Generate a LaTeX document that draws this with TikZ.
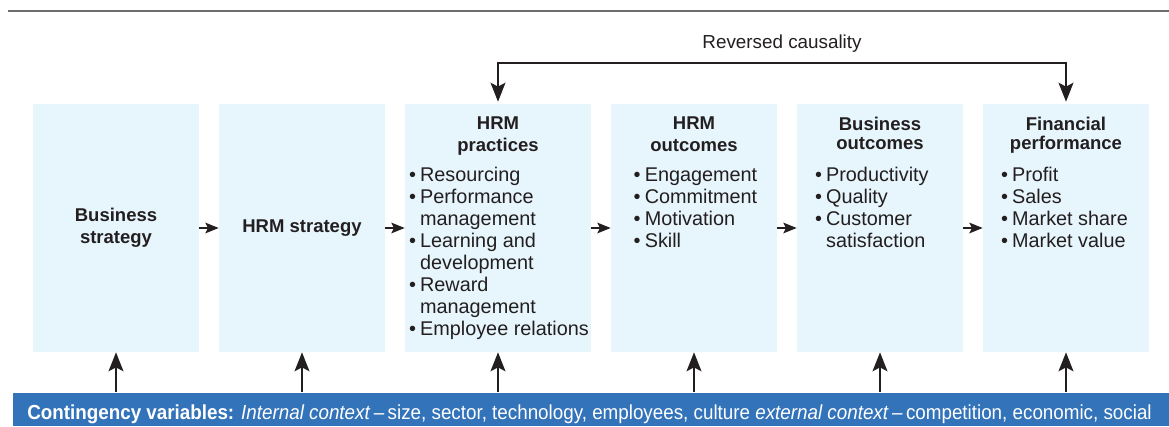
\documentclass[tikz,border=0pt]{standalone}
\usepackage{fontspec}
\setmainfont{Liberation Sans}
\newfontfamily\barfont[FakeStretch=0.925]{Liberation Sans}
\usetikzlibrary{arrows.meta,positioning}

\definecolor{boxblue}{HTML}{E7F5FC}
\definecolor{barblue}{HTML}{3373BA}
\definecolor{ink}{HTML}{231F20}
\definecolor{rulegrey}{HTML}{6D6E70}

\tikzset{
  box/.style={fill=boxblue,inner sep=0pt,minimum height=148.8pt,minimum width=99.6pt},
  widebox/.style={box,minimum width=111.6pt},
  head/.style={text=ink,inner sep=0pt,align=center,font=\fontsize{11.1}{13.2}\selectfont\bfseries},
  items/.style={text=ink,inner sep=0pt,anchor=north west,font=\fontsize{11.9}{13.2}\selectfont},
  lbl/.style={text=ink,inner sep=0pt,font=\fontsize{11.3}{13.2}\selectfont},
  ctxbar/.style={fill=barblue,inner sep=0pt,minimum width=693.6pt,minimum height=20.1pt,anchor=west},
  ctxtext/.style={text=white,inner sep=0pt,anchor=base west,font=\barfont\fontsize{12.2}{14}\selectfont},
  bigarr/.style={draw=ink,line width=1pt,-{Stealth[length=11.4pt,width=9pt,inset=2.4pt]}},
  smallarr/.style={draw=ink,line width=1.1pt,-{Stealth[length=8pt,width=6.4pt,inset=1.6pt]}}
}

\begin{document}
\begin{tikzpicture}[x=0.6pt,y=-0.6pt]
  \useasboundingbox (0,0) rectangle (1169,426);
  \draw[rulegrey,line width=0.9pt] (7.7,11) -- (1169,11);

  \begin{scope}[every node/.style={box}]
  \node (bs) at (116,228) {};
  \node (hs) at (302,228) {};
  \node[widebox] (hp) at (498,228) {};
  \node (ho) at (694,228) {};
  \node (bo) at (880,228) {};
  \node (fp) at (1066,228) {};
  \end{scope}

  \node[ctxbar] (ctx) at (13,409.25) {};
  \node[ctxtext] (ctxlbl) at (27,419) {\textbf{Contingency variables:} \textit{Internal context}\,–\,size, sector, technology, employees, culture \textit{external context}\,–\,competition, economic, social};

  % headings
  \node[head] (bslbl) at (bs) {Business\\strategy};
  \node[head] (hslbl) at (hs) {HRM strategy};
  \node[head,anchor=north] (hplbl) at ([yshift=-7.6pt]hp.north) {HRM\\practices};
  \node[head,anchor=north] (holbl) at ([yshift=-7.6pt]ho.north) {HRM\\outcomes};
  \node[head,anchor=north] (bolbl) at ([yshift=-7.6pt]bo.north) {Business\\[-1.8pt]outcomes};
  \node[head,anchor=north] (fplbl) at ([yshift=-7.6pt]fp.north) {Financial\\[-1.8pt]performance};

  % bullet lists
  \node[items] (hplist) at ([xshift=2.4pt,yshift=-37pt]hp.north west) {\begin{tabular}{@{}l@{\hspace{2.5pt}}l@{}}
    •&Resourcing\\ •&Performance\\ &management\\ •&Learning and\\ &development\\
    •&Reward\\ &management\\ •&Employee relations\end{tabular}};
  \node[items] (holist) at ([xshift=13.6pt,yshift=-37pt]ho.north west) {\begin{tabular}{@{}l@{\hspace{2.5pt}}l@{}}
    •&Engagement\\ •&Commitment\\ •&Motivation\\ •&Skill\end{tabular}};
  \node[items] (bolist) at ([xshift=10.8pt,yshift=-37pt]bo.north west) {\begin{tabular}{@{}l@{\hspace{2.5pt}}l@{}}
    •&Productivity\\ •&Quality\\ •&Customer\\ &satisfaction\end{tabular}};
  \node[items] (fplist) at ([xshift=10.8pt,yshift=-37pt]fp.north west) {\begin{tabular}{@{}l@{\hspace{2.5pt}}l@{}}
    •&Profit\\ •&Sales\\ •&Market share\\ •&Market value\end{tabular}};

  \begin{scope}[every edge/.style={smallarr}]
  \path (bs) edge (hs);
  \path (hs) edge (hp);
  \path (hp) edge (ho);
  \path (ho) edge (bo);
  \path (bo) edge (fp);
  \end{scope}

  \foreach \b in {bs,hs,hp,ho,bo,fp}
    \draw[bigarr] (\b.south |- ctx.north) -- (\b.south);

  % reversed causality
  \coordinate (rc) at (782,62.7);
  \draw[bigarr,{Stealth[length=11.4pt,width=9pt,inset=2.4pt]}-{Stealth[length=11.4pt,width=9pt,inset=2.4pt]},shorten <=1.2pt,shorten >=1.2pt]
    (hp.north) |- (rc) -| (fp.north);
  \node[lbl,above=5.8pt of rc] (rclbl) {Reversed causality};
\end{tikzpicture}
\end{document}
